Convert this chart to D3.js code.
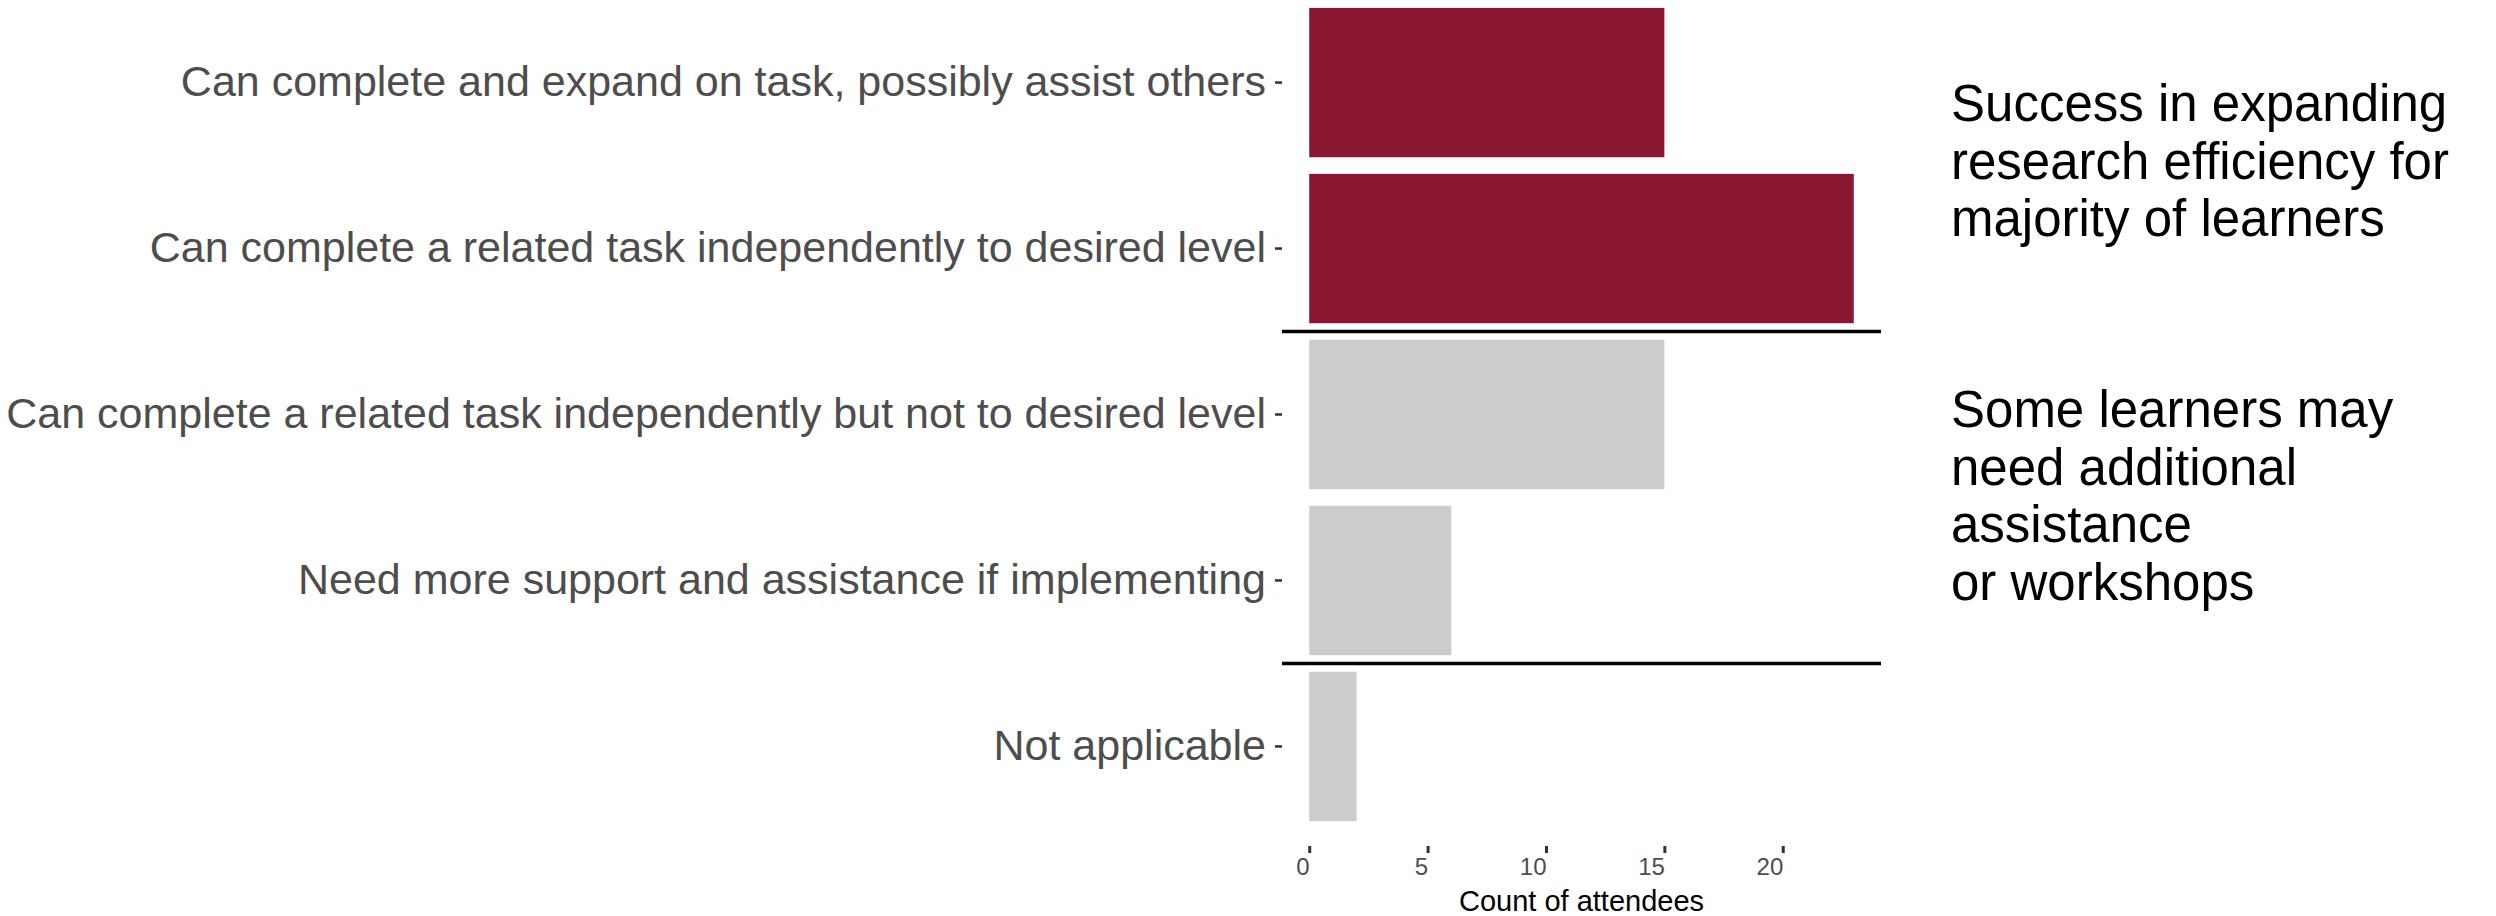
<!DOCTYPE html>
<html>
<head>
<meta charset="utf-8">
<script src="https://cdn.jsdelivr.net/npm/d3@7"></script>
<style>
  body { margin: 0; background: #fff; }
  text { font-family: "Liberation Sans", Arial, sans-serif; }
</style>
</head>
<body>
<svg id="chart" width="2496" height="916"></svg>
<script>
// data
const categories = [
  "Can complete and expand on task, possibly assist others",
  "Can complete a related task independently to desired level",
  "Can complete a related task independently but not to desired level",
  "Need more support and assistance if implementing",
  "Not applicable"
];
const counts = [15, 23, 15, 6, 2];
const groups = ["success", "success", "other", "other", "other"];
const xTicks = [0, 5, 10, 15, 20];
const dividerAfter = [1, 3];
const noteSuccess = ["Success in expanding", "research efficiency for", "majority of learners"];
const noteSupport = ["Some learners may", "need additional", "assistance", "or workshops"];

const svg = d3.select("#chart");

const xMax = d3.max(counts);
const pad = xMax * 0.05;
const xScale = d3.scaleLinear()
  .domain([-pad, xMax + pad])
  .range([1282, 1881]);

const yScale = d3.scaleBand()
  .domain(categories)
  .range([-17, 846])
  .paddingInner(0.1)
  .paddingOuter(0.15);

const colour = d3.scaleOrdinal()
  .domain(["success", "other"])
  .range(["#8b1632", "#cccccc"]);

// bars
svg.append("g")
  .selectAll("rect")
  .data(categories)
  .join("rect")
  .attr("x", xScale(0))
  .attr("y", (d) => yScale(d))
  .attr("width", (d, i) => xScale(counts[i]) - xScale(0))
  .attr("height", yScale.bandwidth())
  .attr("fill", (d, i) => colour(groups[i]));

// divider lines between groups
const step = yScale.step();
svg.append("g")
  .selectAll("line")
  .data(dividerAfter)
  .join("line")
  .attr("x1", xScale.range()[0])
  .attr("x2", xScale.range()[1])
  .attr("y1", (i) => yScale(categories[i]) + yScale.bandwidth() + step * 0.05)
  .attr("y2", (i) => yScale(categories[i]) + yScale.bandwidth() + step * 0.05)
  .attr("stroke", "#000")
  .attr("stroke-width", 3.5);

// y axis
const yAxis = svg.append("g")
  .attr("transform", `translate(${xScale.range()[0]},0)`)
  .call(d3.axisLeft(yScale).tickSize(7).tickPadding(9));
yAxis.select(".domain").remove();
yAxis.selectAll(".tick line").attr("stroke", "#333").attr("stroke-width", 2.5);
yAxis.selectAll(".tick text")
  .attr("fill", "#4d4d4d")
  .style("font-size", "43px");

// x axis
const xAxis = svg.append("g")
  .attr("transform", "translate(0,846)")
  .call(d3.axisBottom(xScale).tickValues(xTicks).tickSize(7).tickPadding(0));
xAxis.select(".domain").remove();
xAxis.selectAll(".tick line").attr("stroke", "#333").attr("stroke-width", 3);
xAxis.selectAll(".tick text")
  .attr("fill", "#4d4d4d")
  .attr("text-anchor", "end")
  .attr("dy", null)
  .attr("y", 29)
  .style("font-size", "24px");

svg.append("text")
  .attr("x", (xScale.range()[0] + xScale.range()[1]) / 2)
  .attr("y", 911)
  .attr("text-anchor", "middle")
  .attr("fill", "#000")
  .style("font-size", "29px")
  .text("Count of attendees");

// notes on the right
function note(lines, top) {
  svg.append("g")
    .selectAll("text")
    .data(lines)
    .join("text")
    .attr("x", 1951)
    .attr("y", (d, i) => top + i * 57.5)
    .attr("fill", "#000")
    .style("font-size", "51px")
    .text((d) => d);
}
note(noteSuccess, 121);
note(noteSupport, 427);
</script>
</body>
</html>
